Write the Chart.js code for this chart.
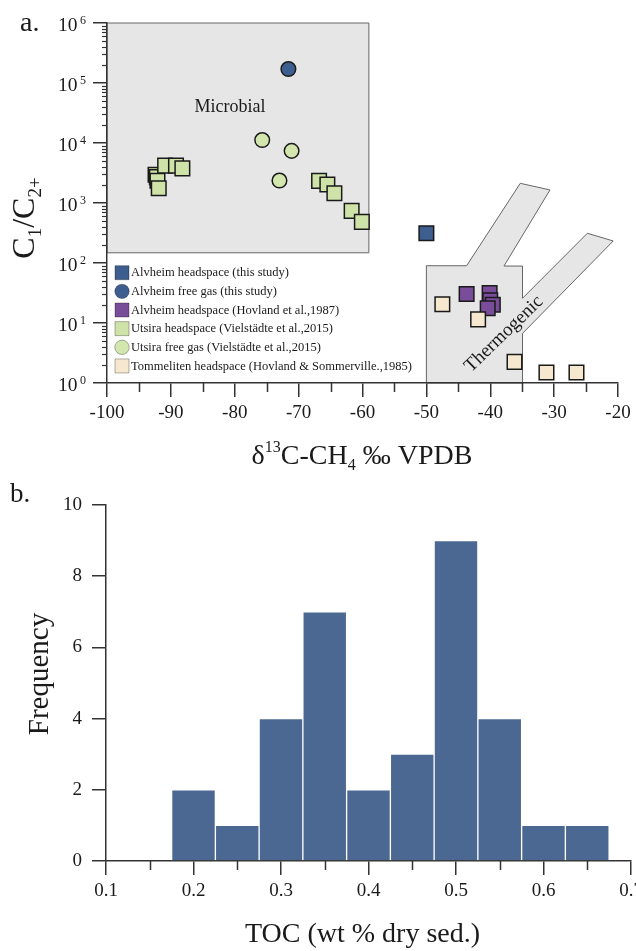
<!DOCTYPE html>
<html><head><meta charset="utf-8">
<script src="https://cdn.jsdelivr.net/npm/chart.js@4.4.0/dist/chart.umd.min.js"></script>
<style>
html,body{margin:0;padding:0;background:#fff;}
body{width:636px;height:951px;position:relative;overflow:hidden;}
#wrapA{position:absolute;left:0;top:0;width:636px;height:480px;}
#wrapB{position:absolute;left:0;top:480px;width:636px;height:471px;}
canvas{display:block;}
</style></head><body>
<div id="wrapA"><canvas id="chartA" width="636" height="480"></canvas></div>
<div id="wrapB"><canvas id="chartB" width="636" height="471"></canvas></div>
<script>
// ---------------- DATA (panel a) ----------------
const seriesNames = [
  'Alvheim headspace (this study)',
  'Alvheim free gas (this study)',
  'Alvheim headspace (Hovland et al.,1987)',
  'Utsira headspace (Vielstädte et al.,2015)',
  'Utsira free gas (Vielstädte et al.,2015)',
  'Tommeliten headspace (Hovland & Sommerville.,1985)'
];
const seriesShapes = ['rect','circle','rect','rect','circle','rect'];
const seriesColors = ['#3e5e90','#3e5e90','#7a4d9b','#cfe3a9','#d3e6ad','#f6e8cf'];

const alvheimHsX = [-50.0];
const alvheimHsY = [313];
const alvheimFgX = [-71.6];
const alvheimFgY = [171000];
const hovlandX = [-43.7, -40.1, -40.0, -39.6, -40.4];
const hovlandY = [30.4, 31.6, 24, 20.2, 17.6];
const utsiraHsX = [-92.4, -92.2, -92.1, -91.9, -90.9, -89.2, -88.2, -66.8, -65.5, -64.4, -61.7, -60.1];
const utsiraHsY = [2950, 2700, 2350, 1760, 4200, 4200, 3780, 2340, 2040, 1450, 740, 485];
const utsiraFgX = [-75.7, -71.1, -73.0];
const utsiraFgY = [11200, 7400, 2370];
const tommX = [-47.5, -41.9, -36.2, -31.2, -26.5];
const tommY = [20.6, 11.5, 2.25, 1.5, 1.5];

const xTicksA = [-100, -90, -80, -70, -60, -50, -40, -30, -20];
const xMinorTicksA = [-95, -85, -75, -65, -55, -45, -35, -25];
const yTickExponents = [0, 1, 2, 3, 4, 5, 6];

const microbialX = [-100, -59, -59, -100];
const microbialY = [1e6, 1e6, 148, 148];
const thermoX = [-50, -50, -43.7, -35.3, -30.65, -37.85, -34.95, -34.95, -24.8, -20.75, -34.95, -34.95];
const thermoY = [1, 90, 90, 2130, 1650, 89, 89, 25.8, 313, 233, 6.7, 1];

// ---------------- DATA (panel b) ----------------
const tocBinCenters = [0.2, 0.25, 0.3, 0.35, 0.4, 0.45, 0.5, 0.55, 0.6, 0.65];
const tocCounts = [2, 1, 4, 7, 2, 3, 9, 4, 1, 1];
const xTicksB = [0.1, 0.2, 0.3, 0.4, 0.5, 0.6, 0.7];
const xMinorTicksB = [0.15, 0.25, 0.35, 0.45, 0.55, 0.65];
const yTicksB = [0, 2, 4, 6, 8, 10];

// ---------------- helpers ----------------
const SERIF = '"Liberation Serif", "Times New Roman", serif';
const AXIS = '#333333';
const TEXT = '#1a1a1a';
function zip(xs, ys){ return xs.map((v,i)=>({x:v, y:ys[i]})); }
function richText(ctx, parts, x, y){
  let w = 0;
  for (const p of parts){ ctx.font = p[1] + 'px ' + SERIF; w += ctx.measureText(p[0]).width; }
  let cx = x - w/2;
  ctx.textAlign = 'left';
  ctx.textBaseline = 'alphabetic';
  for (const p of parts){
    ctx.font = p[1] + 'px ' + SERIF;
    ctx.fillText(p[0], cx, y + (p[2]||0));
    cx += ctx.measureText(p[0]).width;
  }
}
function drawPoly(ctx, sx, sy, xs, ys){
  ctx.beginPath();
  xs.forEach((v,i)=>{
    const px = sx.getPixelForValue(v), py = sy.getPixelForValue(ys[i]);
    if (i===0) ctx.moveTo(px,py); else ctx.lineTo(px,py);
  });
  ctx.closePath();
  ctx.fillStyle = '#e6e6e6';
  ctx.fill();
  ctx.strokeStyle = '#666666';
  ctx.lineWidth = 1;
  ctx.stroke();
}
function minorTicksX(ctx, sx, vals, len){
  ctx.save(); ctx.strokeStyle = AXIS; ctx.lineWidth = 1.5;
  const y0 = sx.top;
  vals.forEach(v=>{ const px = Math.round(sx.getPixelForValue(v)) + 0.5; ctx.beginPath(); ctx.moveTo(px, y0); ctx.lineTo(px, y0 + len); ctx.stroke(); });
  ctx.restore();
}

// ---------------- panel a plugin ----------------
const decoA = {
  id: 'decoA',
  beforeDraw(chart){
    const {ctx, scales:{x, y}} = chart;
    ctx.save();
    drawPoly(ctx, x, y, microbialX, microbialY);
    drawPoly(ctx, x, y, thermoX, thermoY);
    ctx.fillStyle = TEXT;
    ctx.font = '18px ' + SERIF;
    ctx.textAlign = 'center'; ctx.textBaseline = 'alphabetic';
    ctx.fillText('Microbial', 230, 112);
    ctx.save();
    ctx.translate(504, 334);
    ctx.rotate(-44 * Math.PI / 180);
    ctx.font = '19px ' + SERIF;
    ctx.textBaseline = 'middle';
    ctx.fillText('Thermogenic', 0, 0);
    ctx.restore();
    ctx.restore();
  },
  afterDraw(chart){
    const {ctx, scales:{x, y}} = chart;
    ctx.save();
    // minor ticks
    minorTicksX(ctx, x, xMinorTicksA, 9);
    ctx.strokeStyle = AXIS; ctx.lineWidth = 1.2;
    const ax = y.right;
    for (let e = 0; e < 6; e++){
      for (let m = 2; m <= 9; m++){
        const py = Math.round(y.getPixelForValue(m * Math.pow(10, e))) + 0.5;
        ctx.beginPath(); ctx.moveTo(ax - 5, py); ctx.lineTo(ax, py); ctx.stroke();
      }
    }
    // y tick labels 10^n
    ctx.fillStyle = TEXT;
    yTickExponents.forEach(e=>{
      const py = y.getPixelForValue(Math.pow(10, e));
      ctx.textAlign = 'right'; ctx.textBaseline = 'alphabetic';
      ctx.font = '12px ' + SERIF;
      const sw = ctx.measureText(String(e)).width;
      ctx.fillText(String(e), 86, py + 1);
      ctx.font = '19.5px ' + SERIF;
      ctx.fillText('10', 86 - sw - 2.5, py + 8);
    });
    // axis titles
    richText(ctx, [['δ',28],['13',16,-12],['C-CH',28],['4',16,6],[' ‰ VPDB',28]], 362, 464);
    ctx.save();
    ctx.translate(34, 218);
    ctx.rotate(-Math.PI/2);
    richText(ctx, [['C',32],['1',19,7],['/C',32],['2+',19,7]], 0, 0);
    ctx.restore();
    // panel label
    ctx.font = '28px ' + SERIF; ctx.textAlign = 'left'; ctx.textBaseline = 'alphabetic';
    ctx.fillText('a.', 20, 31);
    // legend
    seriesNames.forEach((name, i)=>{
      const cy = 272.7 + i * 18.65;
      ctx.fillStyle = seriesColors[i];
      ctx.strokeStyle = 'rgba(0,0,0,0.3)'; ctx.lineWidth = 1;
      ctx.beginPath();
      if (seriesShapes[i] === 'circle') ctx.arc(122, cy, 7.2, 0, Math.PI*2);
      else ctx.rect(115, cy - 7, 14, 14);
      ctx.fill(); ctx.stroke();
      ctx.fillStyle = TEXT;
      ctx.font = '12.5px ' + SERIF; ctx.textAlign = 'left'; ctx.textBaseline = 'middle';
      ctx.fillText(name, 131, cy + 0.5);
    });
    ctx.restore();
  }
};

const seriesData = [
  zip(alvheimHsX, alvheimHsY), zip(alvheimFgX, alvheimFgY), zip(hovlandX, hovlandY),
  zip(utsiraHsX, utsiraHsY), zip(utsiraFgX, utsiraFgY), zip(tommX, tommY)
];

new Chart(document.getElementById('chartA'), {
  type: 'scatter',
  data: {
    datasets: seriesNames.map((n, i)=>({
      label: n,
      data: seriesData[i],
      pointStyle: seriesShapes[i],
      pointRadius: seriesShapes[i] === 'rect' ? 10.3 : 7.3,
      backgroundColor: seriesColors[i],
      borderColor: '#1a1a1a',
      borderWidth: 1.5,
      order: [5,6,4,2,3,1][i]
    }))
  },
  options: {
    responsive: false, animation: false, events: [],
    layout: { padding: { left: 0, top: 23, right: 18, bottom: 0 } },
    plugins: { legend: { display: false }, tooltip: { enabled: false } },
    scales: {
      x: {
        type: 'linear', position: 'bottom', min: -100, max: -20,
        afterBuildTicks: s => { s.ticks = xTicksA.map(v => ({ value: v })); },
        afterFit: s => { s.height = 97; s.paddingLeft = 0; s.paddingRight = 0; },
        grid: { drawOnChartArea: false, drawTicks: true, tickLength: 14, tickColor: AXIS, tickWidth: 1.5, color: AXIS, lineWidth: 1.5 },
        border: { display: true, color: AXIS, width: 1.5 },
        ticks: { font: { family: SERIF, size: 19 }, color: TEXT, padding: 5, maxRotation: 0, autoSkip: false, callback: v => String(v) }
      },
      y: {
        type: 'logarithmic', position: 'left', min: 1, max: 1e6,
        afterBuildTicks: s => { s.ticks = yTickExponents.map(e => ({ value: Math.pow(10, e) })); },
        afterFit: s => { s.width = 107; s.paddingTop = 0; s.paddingBottom = 0; },
        grid: { drawOnChartArea: false, drawTicks: true, tickLength: 14, tickColor: AXIS, tickWidth: 1.5, color: AXIS, lineWidth: 1.5 },
        border: { display: true, color: AXIS, width: 1.5 },
        ticks: { display: false }
      }
    }
  },
  plugins: [decoA]
});

// ---------------- panel b ----------------
const decoB = {
  id: 'decoB',
  afterDraw(chart){
    const {ctx, scales:{x}} = chart;
    ctx.save();
    minorTicksX(ctx, x, xMinorTicksB, 9);
    ctx.fillStyle = TEXT;
    richText(ctx, [['TOC (wt % dry sed.)', 28]], 362.5, 462);
    ctx.save();
    ctx.translate(48, 194);
    ctx.rotate(-Math.PI/2);
    richText(ctx, [['Frequency', 29]], 0, 0);
    ctx.restore();
    ctx.font = '27px ' + SERIF; ctx.textAlign = 'left'; ctx.textBaseline = 'alphabetic';
    ctx.fillText('b.', 10, 22);
    ctx.restore();
  }
};

new Chart(document.getElementById('chartB'), {
  type: 'bar',
  data: {
    datasets: [{
      label: 'TOC',
      data: tocBinCenters.map((c, i) => ({ x: c, y: tocCounts[i] })),
      backgroundColor: '#4a6891',
      borderColor: 'rgba(255,255,255,0.8)',
      borderWidth: 1,
      borderSkipped: 'start',
      barPercentage: 1,
      categoryPercentage: 1
    }]
  },
  options: {
    responsive: false, animation: false, events: [],
    layout: { padding: { left: 0, top: 25, right: 5, bottom: 0 } },
    plugins: { legend: { display: false }, tooltip: { enabled: false } },
    scales: {
      x: {
        type: 'linear', position: 'bottom', min: 0.1, max: 0.7, offset: false,
        afterBuildTicks: s => { s.ticks = xTicksB.map(v => ({ value: v })); },
        afterFit: s => { s.height = 90; s.paddingLeft = 0; s.paddingRight = 0; },
        grid: { offset: false, drawOnChartArea: false, drawTicks: true, tickLength: 14, tickColor: AXIS, tickWidth: 1.5, color: AXIS, lineWidth: 1.5 },
        border: { display: true, color: AXIS, width: 1.5 },
        ticks: { font: { family: SERIF, size: 19 }, color: TEXT, padding: 5, maxRotation: 0, autoSkip: false, callback: v => Number(v).toFixed(1) }
      },
      y: {
        type: 'linear', position: 'left', min: 0, max: 10,
        afterBuildTicks: s => { s.ticks = yTicksB.map(v => ({ value: v })); },
        afterFit: s => { s.width = 106; s.paddingTop = 0; s.paddingBottom = 0; },
        grid: { drawOnChartArea: false, drawTicks: true, tickLength: 14, tickColor: AXIS, tickWidth: 1.5, color: AXIS, lineWidth: 1.5 },
        border: { display: true, color: AXIS, width: 1.5 },
        ticks: { font: { family: SERIF, size: 19 }, color: TEXT, padding: 10, callback: v => String(v) }
      }
    }
  },
  plugins: [decoB]
});
</script>
</body></html>
